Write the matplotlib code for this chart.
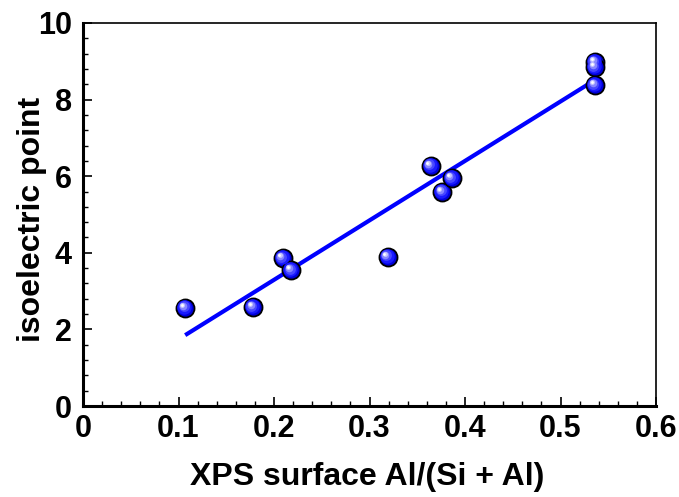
import matplotlib
matplotlib.use('Agg')
import matplotlib.pyplot as plt
import matplotlib.transforms as mtransforms
from matplotlib.ticker import MultipleLocator
import numpy as np

plt.rcParams['font.family'] = ['Liberation Sans', 'DejaVu Sans']
plt.rcParams['font.weight'] = 'bold'

# data
al_ratio = [0.107, 0.178, 0.209, 0.218, 0.319, 0.364, 0.376, 0.386, 0.536, 0.536, 0.536]
iep = [2.56, 2.58, 3.86, 3.55, 3.89, 6.27, 5.59, 5.95, 8.98, 8.85, 8.38]

# fitted line end points
fit_x = [0.107, 0.536]
fit_y = [1.85, 8.51]

fig = plt.figure(figsize=(6.79, 4.97), dpi=100)
ax = fig.add_axes([83 / 679, 1 - 406 / 497, (656 - 83) / 679, (406 - 23) / 497])

ax.plot(fit_x, fit_y, color='#0000ff', linewidth=3.0, solid_capstyle='butt', zorder=2)

# shaded spheres: base circle and lighter layers shifted to upper-left
ms = 13
ax.plot(al_ratio, iep, 'o', markersize=ms, markerfacecolor='#0000d8',
        markeredgecolor='black', markeredgewidth=1.3, linestyle='none', zorder=3)
shades = [(0.80, '#1a1aff', 0.6), (0.60, '#4848ff', 1.1), (0.42, '#8888ff', 1.6),
          (0.27, '#c8c8ff', 2.0), (0.15, '#ffffff', 2.3)]
for k, (frac, col, off) in enumerate(shades):
    tr = mtransforms.offset_copy(ax.transData, fig=fig, x=-off, y=off, units='points')
    ax.plot(al_ratio, iep, 'o', markersize=ms * frac, markerfacecolor=col,
            markeredgewidth=0, linestyle='none', transform=tr, zorder=4 + k)

ax.set_xlim(0, 0.6)
ax.set_ylim(0, 10)
ax.xaxis.set_minor_locator(MultipleLocator(0.02))
ax.yaxis.set_major_locator(MultipleLocator(2))
ax.yaxis.set_minor_locator(MultipleLocator(0.4))
ax.set_xticks(np.arange(0, 0.61, 0.1))
ax.set_xticklabels(['0', '0.1', '0.2', '0.3', '0.4', '0.5', '0.6'])

ax.tick_params(which='major', direction='in', length=6.5, width=1.2, labelsize=22)
ax.tick_params(axis='x', which='major', pad=6)
ax.tick_params(axis='y', which='major', pad=8)
ax.tick_params(which='minor', direction='in', length=3.5, width=1.0)
ax.tick_params(top=False, right=False, which='both')

ax.spines['left'].set_linewidth(2.2)
ax.spines['bottom'].set_linewidth(2.2)
ax.spines['top'].set_linewidth(1.2)
ax.spines['right'].set_linewidth(1.2)

ax.set_xlabel('XPS surface Al/(Si + Al)', fontsize=23, fontweight='bold')
ax.set_ylabel('isoelectric point', fontsize=23, fontweight='bold')
ax.xaxis.set_label_coords(0.496, -0.146)
ax.yaxis.set_label_coords(-0.062, 0.486)

fig.savefig('out.png', dpi=100)
